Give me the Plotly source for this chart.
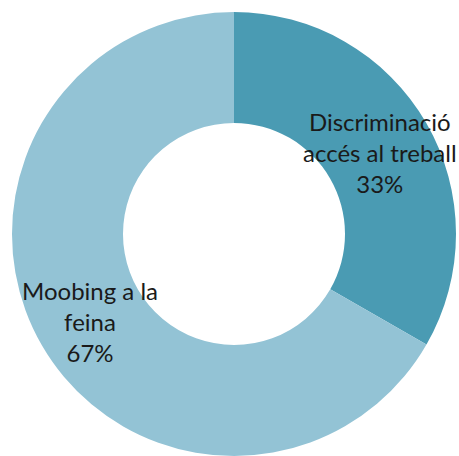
import plotly.graph_objects as go

labels = ["Discriminació<br>accés al treball", "Moobing a la<br>feina"]
values = [33.3, 66.7]
colors = ["#4A9BB3", "#93C3D5"]

fig = go.Figure(go.Pie(
    labels=labels,
    values=values,
    hole=0.5,
    sort=False,
    direction="clockwise",
    rotation=0,
    marker=dict(colors=colors, line=dict(width=0)),
    textinfo="none",
    hoverinfo="label+percent",
    domain=dict(x=[12/459, 456/459], y=[0, 1 - 12/456]),
    showlegend=False,
))

total = sum(values)
ann_pos = [(0.828, 0.666), (0.196, 0.296)]
for lab, v, (x, y) in zip(labels, values, ann_pos):
    fig.add_annotation(
        x=x, y=y, xref="paper", yref="paper",
        xanchor="center", yanchor="middle",
        text=f"{lab}<br>{round(100*v/total)}%",
        showarrow=False,
        font=dict(family="Lato, Liberation Sans, sans-serif", size=24, color="#1a1a1a"),
        align="center",
    )

fig.update_layout(
    width=459, height=456,
    margin=dict(l=0, r=0, t=0, b=0),
    paper_bgcolor="white",
    plot_bgcolor="white",
)

fig.write_html(
    "out.html",
    config={"displayModeBar": False},
    post_script="document.body.style.margin='0';document.body.style.overflow='hidden';",
)
